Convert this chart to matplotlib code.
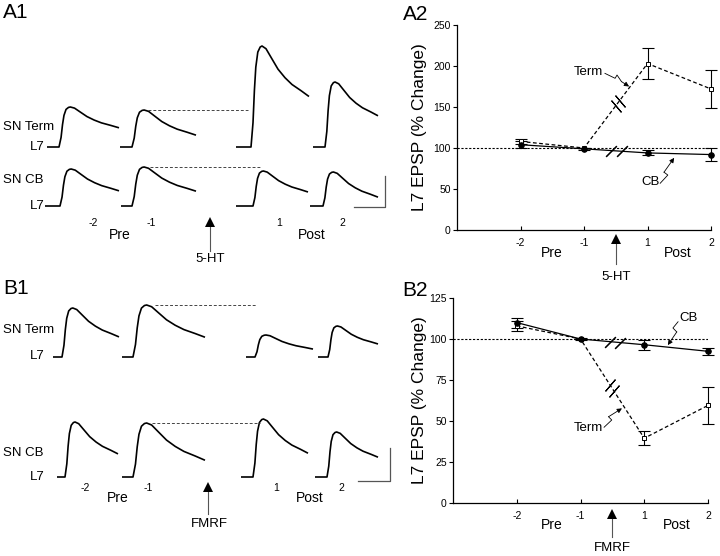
import numpy as np
import matplotlib
matplotlib.use("Agg")
import matplotlib.pyplot as plt

plt.rcParams['font.family'] = ['Liberation Sans', 'DejaVu Sans']

# ── Data ─────────────────────────────────────────────────────────
sessions = ['-2', '-1', '1', '2']
sess_x = [1, 2, 3, 4]

# A2: 5-HT, L7 EPSP (% change)
term_5ht = [108, 100, 203, 172]
term_5ht_sem = [3, 0, 19, 23]
cb_5ht = [104, 99, 94, 92]
cb_5ht_sem = [4, 1, 3, 8]

# B2: FMRF
term_fmrf = [108, 100, 39.5, 59.5]
term_fmrf_sem = [3, 0, 4.3, 11.5]
cb_fmrf = [110, 100, 96.5, 92.5]
cb_fmrf_sem = [3, 0.5, 3, 2]

# EPSP traces (amplitude in px of the record, fraction left at end of sweep)
a1_term_amp = [40, 37, 101, 65]
a1_term_end = [0.48, 0.32, 0.50, 0.48]
a1_cb_amp = [37, 39, 35, 34]
a1_cb_end = [0.41, 0.38, 0.40, 0.26]
b1_term_amp = [49, 52, 22, 31]
b1_term_end = [0.41, 0.38, 0.36, 0.42]
b1_cb_amp = [55, 54, 58, 45]
b1_cb_end = [0.42, 0.31, 0.41, 0.44]

# normalised EPSP waveform read from the largest sweep
tpl_t = [0, 2.0, 3.4, 4.8, 6.8, 9.2, 11, 15, 20, 27, 34, 41, 50, 58]
tpl_v = [0, .24, .56, .79, .94, .99, 1.0, .974, .892, .778, .696, .631, .572, .516]

# ── Layout (pixels of the 720x556 figure) ───────────────────────
W, H = 720, 556
fig = plt.figure(figsize=(W / 100, H / 100), dpi=100)
pix = fig.add_axes([0, 0, 1, 1], zorder=0)
pix.set_xlim(0, W)
pix.set_ylim(H, 0)
pix.axis('off')
pix.patch.set_alpha(0)


def draw_trace(x0, onset, end, base, amp, end_ratio):
    t = np.array(tpl_t) * (end - onset) / tpl_t[-1]
    v = np.array(tpl_v, dtype=float)
    k = (1 - end_ratio) / (1 - tpl_v[-1])
    after = np.arange(len(v)) > 6
    v[after] = 1 - (1 - v[after]) * k
    xs = np.concatenate([[x0], onset + t])
    ys = np.concatenate([[base], base - amp * v])
    pix.plot(xs, ys, color='black', lw=1.2, solid_capstyle='butt')
    return onset + t[6], base - amp


def draw_row(sweeps, amps, ends, base):
    peaks = []
    for (x0, on, en), a, e in zip(sweeps, amps, ends):
        peaks.append(draw_trace(x0, on, en, base, a, e))
    return peaks


def dashed_ref(x_start, x_stop, y):
    pix.plot([x_start, x_stop], [y, y], color='#444444', lw=0.7,
             dashes=(3, 2))


txt = dict(fontsize=9.5, color='black')
TICK = 7.5

# ---- A1
a1_term_sweeps = [(47, 59, 119), (120, 132, 196), (236, 251, 309), (313, 325, 378)]
a1_cb_sweeps = [(45, 60, 119), (121, 132, 196), (236, 253, 308), (310, 323, 378)]
pk = draw_row(a1_term_sweeps, a1_term_amp, a1_term_end, 147)
dashed_ref(pk[1][0] + 4, 248, pk[1][1])
pk = draw_row(a1_cb_sweeps, a1_cb_amp, a1_cb_end, 206)
dashed_ref(pk[1][0] + 6, 260, pk[1][1])

pix.text(3, 13, 'A1', fontsize=15, va='center')
pix.text(3, 127, 'SN Term', va='center', **txt)
pix.text(45, 147, 'L7', va='center', ha='right', **txt)
pix.text(3, 180, 'SN CB', va='center', **txt)
pix.text(45, 206, 'L7', va='center', ha='right', **txt)
for lab, xp in zip(sessions, [93, 151, 279, 342]):
    pix.text(xp, 223, lab, fontsize=TICK, ha='center', va='center')
pix.text(120, 235, 'Pre', ha='center', va='center', fontsize=10)
pix.text(312, 235, 'Post', ha='center', va='center', fontsize=10)
pix.plot([210, 210], [224, 251], color='#555555', lw=0.8)
pix.plot([210], [222], marker='^', ms=7, color='black', mew=0)
pix.text(210, 259, '5-HT', ha='center', va='center', **txt)
pix.plot([354, 385, 385], [207, 207, 176], color='#555555', lw=0.9)

# ---- B1
b1_term_sweeps = [(53, 62, 119), (122, 133, 205), (246, 255, 313), (318, 328, 378)]
b1_cb_sweeps = [(57, 65, 118), (122, 133, 205), (241, 253, 308), (315, 327, 378)]
pk = draw_row(b1_term_sweeps, b1_term_amp, b1_term_end, 357)
dashed_ref(pk[1][0] + 8, 257, pk[1][1])
pk = draw_row(b1_cb_sweeps, b1_cb_amp, b1_cb_end, 477)
dashed_ref(pk[1][0] + 5, 260, pk[1][1])

pix.text(3, 288, 'B1', fontsize=15, va='center')
pix.text(3, 330, 'SN Term', va='center', **txt)
pix.text(45, 356, 'L7', va='center', ha='right', **txt)
pix.text(3, 453, 'SN CB', va='center', **txt)
pix.text(45, 477, 'L7', va='center', ha='right', **txt)
for lab, xp in zip(sessions, [85, 148, 276, 341]):
    pix.text(xp, 488, lab, fontsize=TICK, ha='center', va='center')
pix.text(118, 498, 'Pre', ha='center', va='center', fontsize=10)
pix.text(310, 498, 'Post', ha='center', va='center', fontsize=10)
pix.plot([208, 208], [489, 514], color='#555555', lw=0.8)
pix.plot([208], [487], marker='^', ms=7, color='black', mew=0)
pix.text(209, 524, 'FMRF', ha='center', va='center', **txt)
pix.plot([358, 390, 390], [481, 481, 448], color='#555555', lw=0.9)


# ── Summary plots ───────────────────────────────────────────────
def summary_axes(rect_px, ymax, ystep):
    l, r, b, t = rect_px
    ax = fig.add_axes([l / W, 1 - b / H, (r - l) / W, (b - t) / H])
    ax.set_xlim(0, 4)
    ax.set_ylim(0, ymax)
    for s in ['top', 'right']:
        ax.spines[s].set_visible(False)
    for s in ['left', 'bottom']:
        ax.spines[s].set_linewidth(0.9)
    ax.set_yticks(np.arange(0, ymax + 1, ystep))
    ax.set_xticks(sess_x)
    ax.set_xticklabels(sessions)
    ax.tick_params(axis='y', direction='out', length=3, width=0.8,
                   labelsize=TICK, pad=1.5)
    ax.tick_params(axis='x', direction='in', length=3, width=0.8,
                   labelsize=TICK, pad=6)
    ax.set_ylabel('L7 EPSP (% Change)', fontsize=12.5)
    ax.axhline(100, color='black', lw=0.8, dashes=(2, 1.5))
    return ax


def series(ax, y, err, marker, mfc, dashed):
    ls = dict(dashes=(3, 2)) if dashed else dict(ls='-')
    ax.plot(sess_x, y, color='black', lw=0.9, clip_on=False, **ls)
    ax.errorbar(sess_x, y, yerr=err, fmt='none', ecolor='black',
                elinewidth=0.8, capsize=4, capthick=0.8, clip_on=False)
    ax.plot(sess_x, y, ls='none', marker=marker, ms=4 if marker == 'o' else 3.5,
            mfc=mfc, mec='black', mew=0.7, clip_on=False, zorder=5)


def breaks(ax, y, fracs, angle):
    # slash marks on the segment between session -1 and 1
    xs = [2 + f for f in fracs]
    ys = [y[1] + f * (y[2] - y[1]) for f in fracs]
    ax.plot(xs, ys, ls='none', marker=(2, 2, angle), ms=11, mec='black',
            mew=0.8, clip_on=False)


def zigzag(ax, label, pts, text_xy):
    ax.text(*text_xy, label, fontsize=9.5, ha='center', va='center')
    xs, ys = zip(*pts)
    ax.plot(xs[:-1], ys[:-1], color='black', lw=0.6)
    ax.annotate('', xy=pts[-1], xytext=pts[-2],
                arrowprops=dict(arrowstyle='-|>', lw=0.6, color='black',
                                shrinkA=0, shrinkB=0, mutation_scale=7))


def stim_arrow(ax, label, head_y, tail_y, text_y):
    tr = ax.get_xaxis_transform()
    ax.plot([2.5, 2.5], [head_y - 0.02, tail_y], color='#555555', lw=0.8,
            transform=tr, clip_on=False)
    ax.plot([2.5], [head_y], marker='^', ms=7, color='black', mew=0,
            transform=tr, clip_on=False)
    ax.text(2.5, text_y, label, ha='center', va='center', fontsize=9.5,
            transform=tr)


# ---- A2
ax = summary_axes((457, 711, 230, 25), 250, 50)
ax.yaxis.set_label_coords(-0.118, 0.5)
series(ax, term_5ht, term_5ht_sem, 's', 'white', True)
series(ax, cb_5ht, cb_5ht_sem, 'o', 'black', False)
breaks(ax, term_5ht, [0.5, 0.56], 40)
breaks(ax, cb_5ht, [0.43, 0.6], -45)
zigzag(ax, 'Term', [(2.33, 191), (2.49, 185), (2.52, 189), (2.59, 181), (2.71, 175)],
       (2.07, 193))
zigzag(ax, 'CB', [(3.2, 57), (3.32, 67), (3.26, 70.5), (3.42, 88)], (3.05, 59))
tr = ax.get_xaxis_transform()
ax.text(1.5, -0.112, 'Pre', ha='center', va='center', fontsize=10, transform=tr)
ax.text(3.48, -0.112, 'Post', ha='center', va='center', fontsize=10, transform=tr)
stim_arrow(ax, '5-HT', -0.045, -0.165, -0.23)
fig.text(403 / W, 1 - 15 / H, 'A2', fontsize=15, va='center')

# ---- B2
ax = summary_axes((453, 708, 503, 298), 125, 25)
ax.yaxis.set_label_coords(-0.102, 0.5)
series(ax, term_fmrf, term_fmrf_sem, 's', 'white', True)
series(ax, cb_fmrf, cb_fmrf_sem, 'o', 'black', False)
breaks(ax, term_fmrf, [0.46, 0.52], -40)
breaks(ax, cb_fmrf, [0.46, 0.62], -45)
zigzag(ax, 'CB', [(3.53, 110.5), (3.45, 106.7), (3.51, 104.3), (3.37, 96.3)],
       (3.69, 113))
zigzag(ax, 'Term', [(2.37, 46.2), (2.49, 50.6), (2.44, 52.6), (2.65, 57.7)],
       (2.12, 45.5))
tr = ax.get_xaxis_transform()
ax.text(1.55, -0.107, 'Pre', ha='center', va='center', fontsize=10, transform=tr)
ax.text(3.51, -0.107, 'Post', ha='center', va='center', fontsize=10, transform=tr)
stim_arrow(ax, 'FMRF', -0.055, -0.166, -0.22)
fig.text(402 / W, 1 - 291 / H, 'B2', fontsize=15, va='center')

fig.savefig('out.png', dpi=100)
